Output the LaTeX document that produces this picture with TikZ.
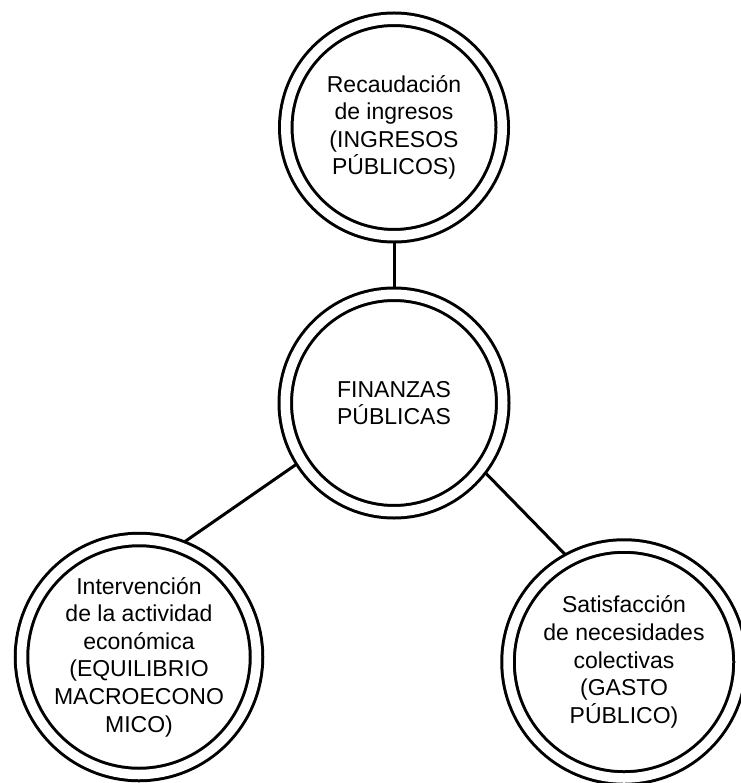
\documentclass[tikz,border=0pt]{standalone}
\usepackage{fontspec}
\setmainfont{Liberation Sans}
\usepackage{tikz}
\usetikzlibrary{positioning, calc}
\tikzset{ring/.style = {
  circle,
  draw=black, line width=3pt,
  double=white, double distance=9.5pt,
  fill=white,
  inner sep=0pt,
  text centered, align=center,
  font=\fontsize{23}{27.6}\selectfont
  }}
\tikzset{link/.style = {
  draw=black,
  line width=3pt
  }}

\begin{document}
\begin{tikzpicture}[x=1pt, y=-1pt]
% LAYERS
\pgfdeclarelayer{bg}
\pgfsetlayers{bg,main}

\useasboundingbox (0,0) rectangle (740,783);

% NODES
\node (ingresos) [ring, minimum size=216.5pt] at (394,127.5) {Recaudación\\de ingresos\\(INGRESOS\\PÚBLICOS)};

\node (finanzas) [ring, minimum size=217.5pt] at (394,403) {FINANZAS\\PÚBLICAS};

\node (equilibrio) [ring, minimum size=235pt] at (139,657) {Intervención\\de la actividad\\económica\\(EQUILIBRIO\\MACROECONO\\MICO)};

\node (gasto) [ring, minimum size=232pt] at (624,662) {Satisfacción\\de necesidades\\colectivas\\(GASTO\\PÚBLICO)};

% links
\begin{pgfonlayer}{bg}
\draw [link] (ingresos.south) -- (finanzas.north);
\draw [link] (finanzas.212) -- (equilibrio.70);
\draw [link] (finanzas.323) -- (gasto.118);
\end{pgfonlayer}
\end{tikzpicture}
\end{document}
